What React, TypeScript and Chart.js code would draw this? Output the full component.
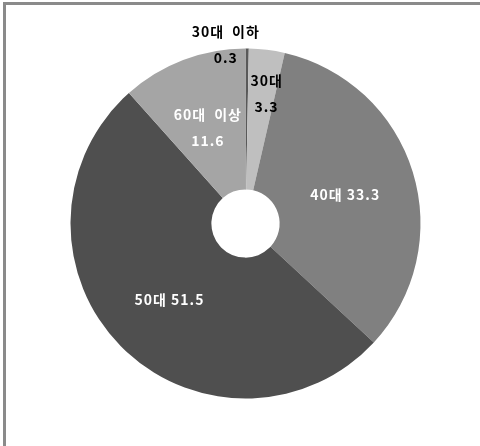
import React, { useEffect, useRef } from "react";
import { Chart, registerables } from "chart.js";

Chart.register(...registerables);

const categories = ["30대 이하", "30대", "40대", "50대", "60대 이상"];
const values = [0.3, 3.3, 33.3, 51.5, 11.6];
const valueLabels = ["0.3", "3.3", "33.3", "51.5", "11.6"];
const sliceColors = ["#595959", "#bfbfbf", "#808080", "#4f4f4f", "#a5a5a5"];
const labelColors = ["#000000", "#000000", "#ffffff", "#ffffff", "#ffffff"];

// label layout: radial fraction of outer radius, angle offset (deg), two-line or single
const labelLayout = [
  { r: 1.03, dAng: -7.0, twoLine: true },
  { r: 0.75, dAng: 2.0, twoLine: true },
  { r: 0.59, dAng: 1.0, twoLine: false },
  { r: 0.616, dAng: -0.3, twoLine: false },
  { r: 0.59, dAng: -0.8, twoLine: true },
];

const labelPlugin = {
  id: "sliceLabels",
  afterDatasetsDraw(chart: any) {
    const ctx = chart.ctx as CanvasRenderingContext2D;
    const meta = chart.getDatasetMeta(0);
    ctx.save();
    ctx.font = 'bold 14px "Noto Sans CJK KR", "Noto Sans", sans-serif';
    (ctx as any).letterSpacing = "1px";
    ctx.textAlign = "center";
    ctx.textBaseline = "middle";
    meta.data.forEach((arc: any, i: number) => {
      const p = arc.getProps(["x", "y", "startAngle", "endAngle", "outerRadius"], true);
      const lay = labelLayout[i];
      const mid = (p.startAngle + p.endAngle) / 2 + (lay.dAng * Math.PI) / 180;
      const rr = p.outerRadius * lay.r;
      const cx = p.x + Math.cos(mid) * rr + 0.5;
      const cy = p.y + Math.sin(mid) * rr;
      ctx.fillStyle = labelColors[i];
      if (lay.twoLine) {
        ctx.fillText(categories[i].replace(" ", "\u2002"), cx, cy - 13);
        ctx.fillText(valueLabels[i], cx, cy + 13);
      } else {
        ctx.fillText(categories[i] + " " + valueLabels[i], cx, cy);
      }
    });
    ctx.restore();
  },
};

export default function App() {
  const ref = useRef<HTMLCanvasElement | null>(null);
  useEffect(() => {
    if (!ref.current) return;
    const chart = new Chart(ref.current, {
      type: "doughnut",
      data: {
        labels: categories,
        datasets: [
          {
            data: values,
            backgroundColor: sliceColors,
            borderWidth: 0,
          },
        ],
      },
      options: {
        responsive: false,
        animation: false,
        devicePixelRatio: 1,
        cutout: "19.5%",
        layout: { padding: { left: 70.5, right: 59.5, top: 48.5, bottom: 47.5 } },
        plugins: {
          legend: { display: false },
          tooltip: { enabled: false },
        },
      },
      plugins: [labelPlugin],
    });
    return () => chart.destroy();
  }, []);
  return (
    <div style={{ position: "fixed", left: 0, top: 0, width: 480, height: 446, background: "#fff", overflow: "hidden" }}>
      <div
        style={{
          position: "absolute",
          left: 3,
          top: 2,
          width: 490,
          height: 441,
          borderLeft: "3px solid #8a8a8a",
          borderTop: "3px solid #8a8a8a",
          borderBottom: "1px solid #d9d9d9",
        }}
      />
      <canvas ref={ref} width={480} height={446} style={{ position: "absolute", left: 0, top: 0 }} />
    </div>
  );
}
